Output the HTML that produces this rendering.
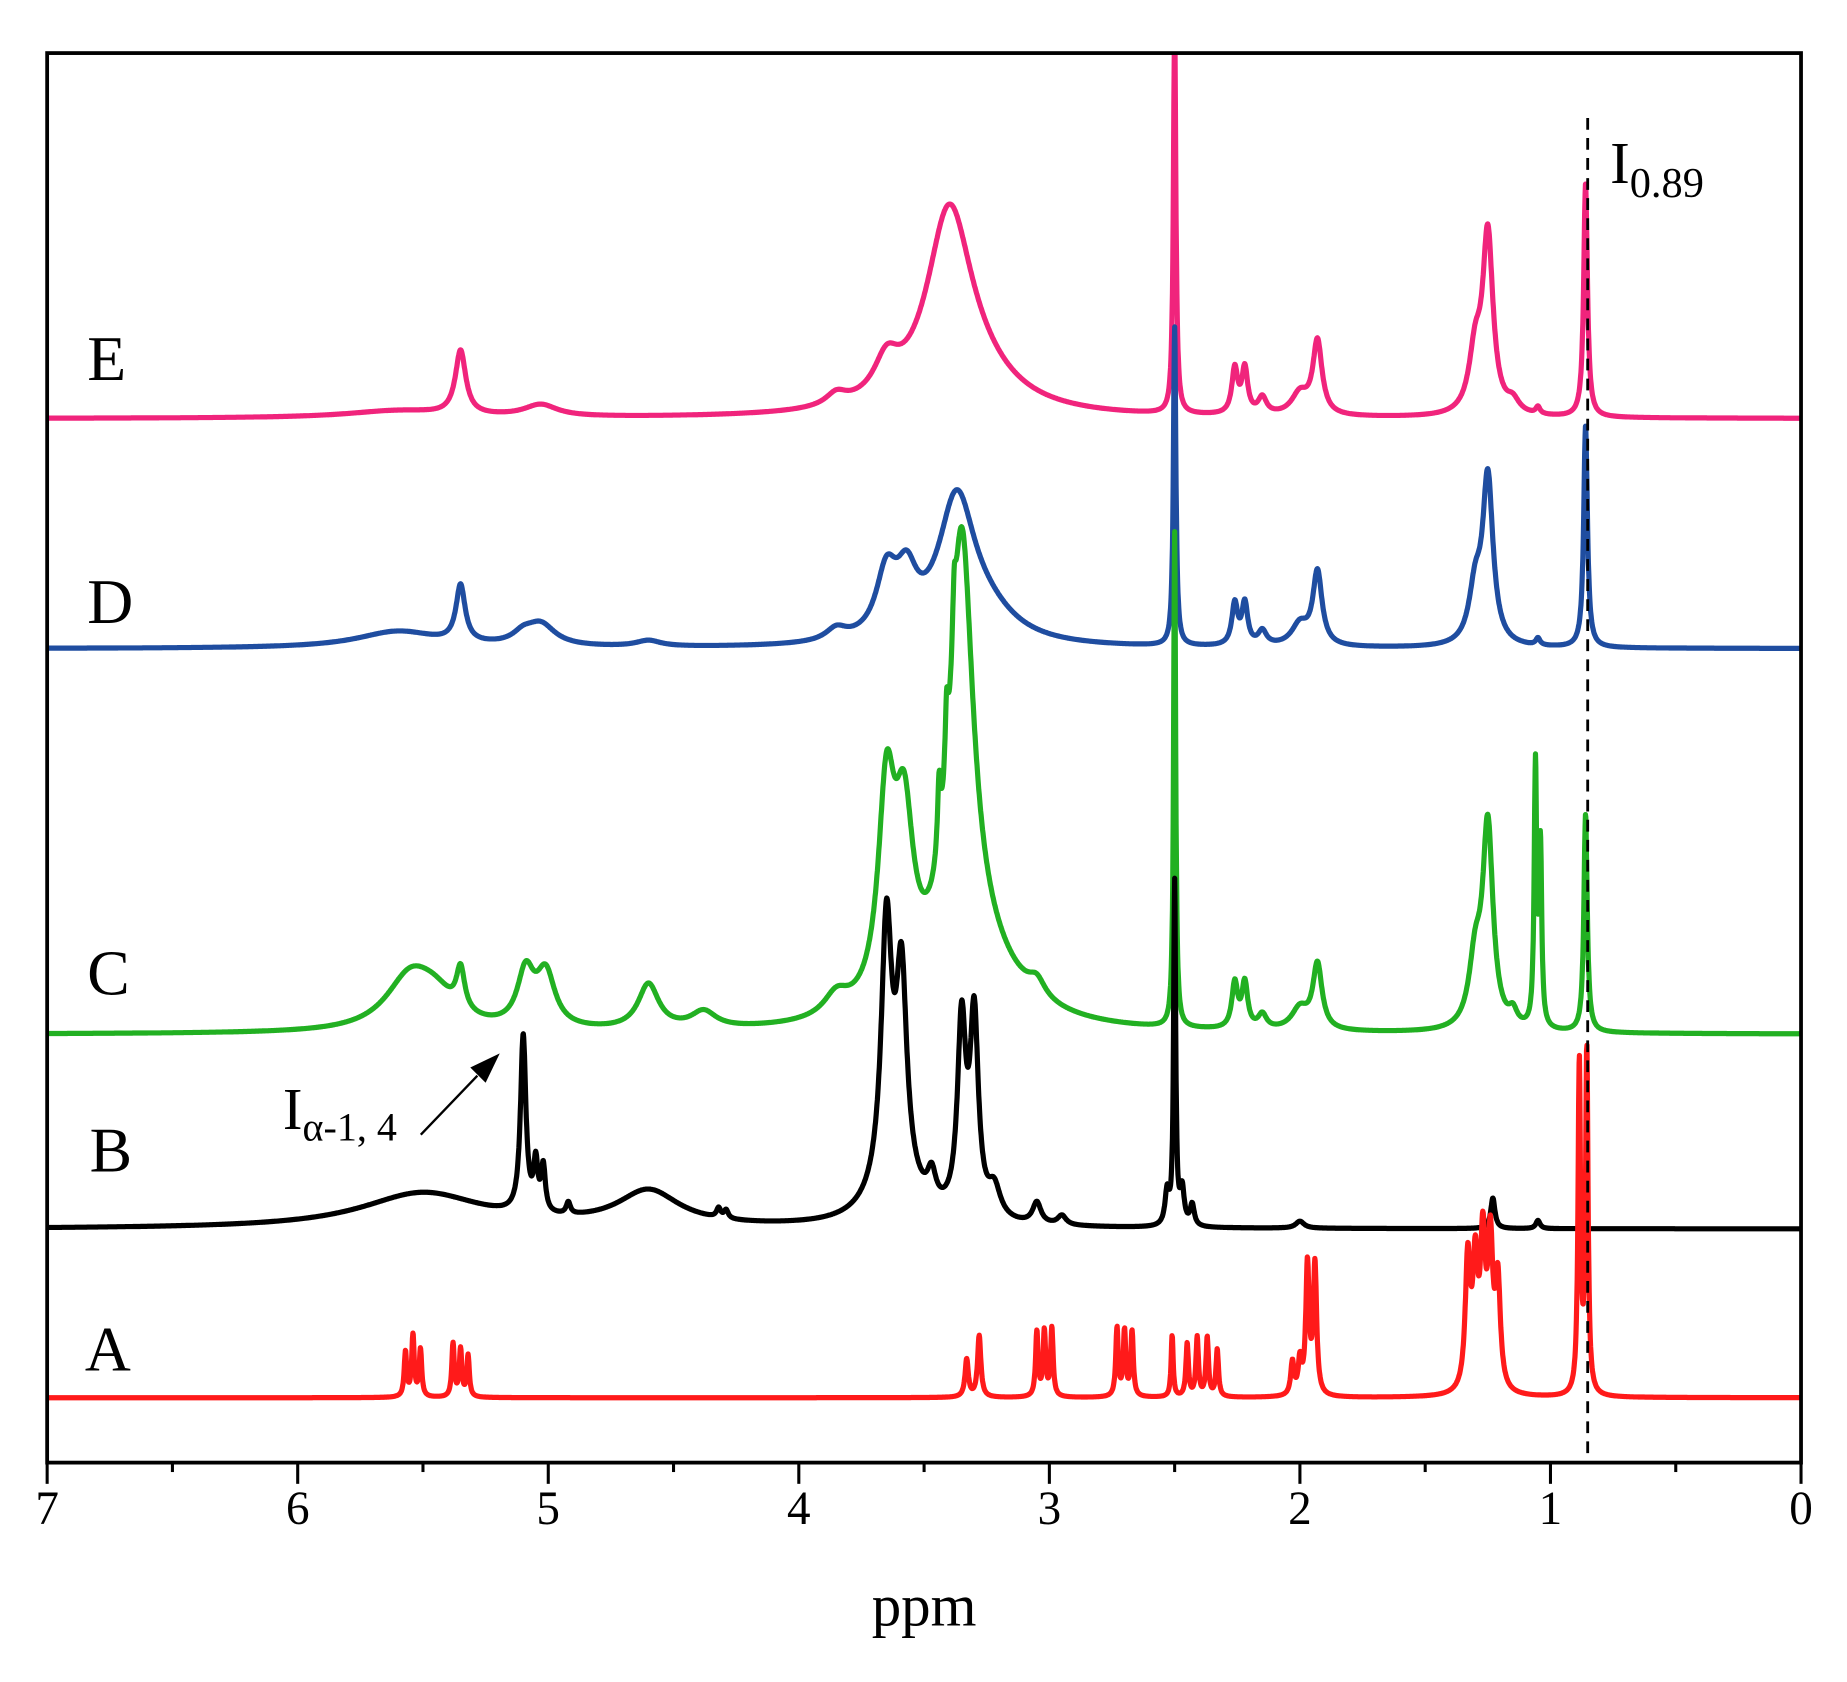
<!DOCTYPE html>
<html><head><meta charset="utf-8"><style>
html,body{margin:0;padding:0;background:#fff;}
svg{display:block;}
text{font-family:"Liberation Serif",serif;fill:#000;}
</style></head><body>
<svg id="s" width="1847" height="1682" viewBox="0 0 1567 1426" preserveAspectRatio="none" xmlns="http://www.w3.org/2000/svg">
<defs><clipPath id="c"><rect x="40" y="45" width="1488" height="1195"/></clipPath></defs>
<g id="plots" clip-path="url(#c)"></g>
<line x1="1347" y1="100" x2="1347" y2="1240" stroke="#000" stroke-width="2.4" stroke-dasharray="10,7"/>
<rect x="40" y="45" width="1488" height="1195" fill="none" stroke="#000" stroke-width="3.2"/>
<g id="ticks" stroke="#000" stroke-width="2.6"></g>
<g font-size="40" text-anchor="middle">
<text x="40" y="1292">7</text><text x="252.6" y="1292">6</text><text x="465.1" y="1292">5</text><text x="677.7" y="1292">4</text><text x="890.3" y="1292">3</text><text x="1102.9" y="1292">2</text><text x="1315.4" y="1292">1</text><text x="1528" y="1292">0</text>
</g>
<text x="784" y="1378" font-size="50" text-anchor="middle">ppm</text>
<g font-size="54">
<text x="74" y="322">E</text>
<text x="74" y="528">D</text>
<text x="74" y="843">C</text>
<text x="76" y="993">B</text>
<text x="72" y="1162">A</text>
</g>
<text x="1366" y="155" font-size="50">I<tspan font-size="36" dy="12">0.89</tspan></text>
<text x="240" y="957" font-size="50">I<tspan font-size="34" dy="10">α-1, 4</tspan></text>
<line x1="357" y1="962" x2="405" y2="912" stroke="#000" stroke-width="2"/>
<polygon points="424,893 399,905 412,918" fill="#000"/>
</svg>
<script>
var X=function(p){return 1528-212.571*p;};
var tk=document.getElementById('ticks');var h='';
for(var i=0;i<=14;i++){var p=i*0.5,x=X(p),L=(i%2==0)?18:8;h+='<line x1="'+x+'" y1="1240" x2="'+x+'" y2="'+(1240+L)+'"/>';}
tk.innerHTML=h;
var S={
E:{b:355,c:'#f0247c',pk:[[5.6,6,0.25],[5.35,54,0.025],[5.03,10,0.08],[3.85,10,0.05],[3.65,30,0.06],[3.40,160,0.11],[3.30,25,0.2],[2.50,330,0.006],[2.26,38,0.014],[2.22,38,0.014],[2.15,14,0.02],[2.0,18,0.04],[1.93,62,0.022],[1.30,50,0.03],[1.25,150,0.025],[1.15,10,0.03],[1.05,6,0.01],[0.86,198,0.009]]},
D:{b:550,c:'#1f4da0',pk:[[5.6,14,0.2],[5.35,48,0.022],[5.03,18,0.07],[5.1,8,0.05],[4.6,5,0.06],[3.85,10,0.05],[3.65,52,0.05],[3.57,45,0.05],[3.37,118,0.09],[3.25,20,0.15],[2.50,270,0.006],[2.26,35,0.014],[2.22,35,0.014],[2.15,12,0.02],[2.0,18,0.04],[1.93,62,0.022],[1.30,45,0.03],[1.25,140,0.025],[1.05,6,0.01],[0.86,188,0.009]]},
B:{b:1042,c:'#000',pk:[[5.5,30,0.3],[5.10,150,0.013],[5.05,40,0.01],[5.02,38,0.01],[4.92,10,0.01],[4.6,30,0.15],[4.32,8,0.01],[4.29,7,0.01],[3.62,40,0.1],[3.65,215,0.025],[3.59,170,0.025],[3.47,25,0.02],[3.35,160,0.02],[3.30,165,0.02],[3.22,25,0.03],[3.05,18,0.02],[2.95,8,0.02],[2.50,290,0.005],[2.53,28,0.01],[2.47,30,0.01],[2.43,18,0.01],[2.0,6,0.02],[1.23,26,0.01],[1.05,7,0.01]]},
C:{b:877,c:'#22b022',pk:[[5.55,45,0.12],[5.45,20,0.1],[5.35,35,0.02],[5.09,45,0.04],[5.01,45,0.045],[4.6,38,0.05],[4.38,14,0.06],[3.85,18,0.06],[3.65,170,0.04],[3.58,140,0.045],[3.44,60,0.008],[3.41,60,0.008],[3.38,50,0.008],[3.35,360,0.055],[3.30,60,0.2],[3.05,14,0.04],[2.50,420,0.005],[2.26,38,0.014],[2.22,38,0.014],[2.15,12,0.02],[2.0,18,0.04],[1.93,55,0.022],[1.30,55,0.03],[1.25,170,0.025],[1.15,12,0.02],[1.06,220,0.006],[1.04,150,0.006],[0.86,185,0.008]]},
A:{b:1185,c:'#ff1a1a',pk:[[5.57,38,0.006],[5.54,52,0.006],[5.51,40,0.006],[5.38,45,0.006],[5.35,40,0.006],[5.32,35,0.006],[3.33,32,0.008],[3.28,52,0.008],[3.05,55,0.006],[3.02,55,0.006],[2.99,58,0.006],[2.73,58,0.006],[2.70,55,0.006],[2.67,55,0.006],[2.51,52,0.005],[2.45,45,0.006],[2.41,50,0.006],[2.37,50,0.006],[2.33,40,0.006],[2.03,28,0.008],[2.00,28,0.008],[1.97,110,0.008],[1.94,110,0.008],[1.33,110,0.012],[1.30,100,0.012],[1.27,120,0.012],[1.24,120,0.012],[1.21,90,0.012],[0.885,280,0.006],[0.855,290,0.006]]}
};
var g=document.getElementById('plots'),out='';
['E','D','C','B','A'].forEach(function(k){
 var s=S[k],pts=[];
 for(var p=7.0;p>=-0.001;p-=0.0015){
  var y=0;for(var j=0;j<s.pk.length;j++){var q=s.pk[j],d=(p-q[0])/q[2];y+=q[1]/(1+d*d);}
  pts.push(X(p).toFixed(1)+','+(s.b-y).toFixed(1));
 }
 out+='<polyline fill="none" stroke="'+s.c+'" stroke-width="4.4" stroke-linejoin="round" points="'+pts.join(' ')+'"/>';
});
g.innerHTML=out;
</script>
</body></html>
